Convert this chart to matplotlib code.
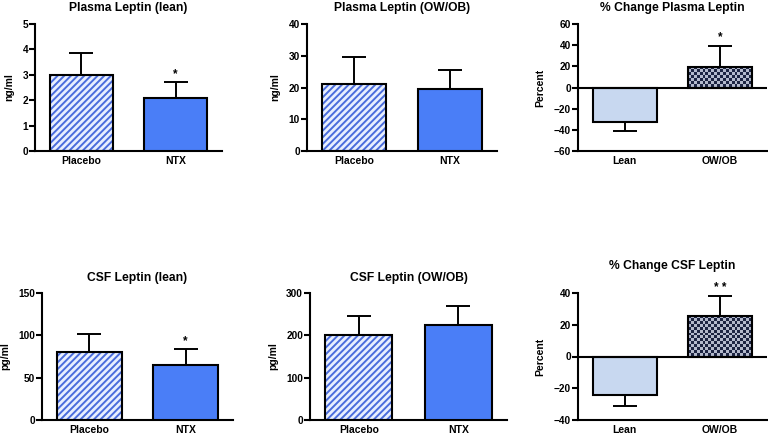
import numpy as np
import matplotlib
matplotlib.use("Agg")
import matplotlib.pyplot as plt

plt.rcParams['font.family'] = ['Liberation Sans', 'DejaVu Sans']
plt.rcParams['font.weight'] = 'bold'
plt.rcParams['hatch.linewidth'] = 1.4

# ---- data ----
titles = ["Plasma Leptin (lean)", "Plasma Leptin (OW/OB)", "% Change Plasma Leptin",
          "CSF Leptin (lean)", "CSF Leptin (OW/OB)", "% Change CSF Leptin"]
ylabels = ["ng/ml", "ng/ml", "Percent", "pg/ml", "pg/ml", "Percent"]
cats_treat = ["Placebo", "NTX"]
cats_group = ["Lean", "OW/OB"]

plasma_lean_mean = [3.0, 2.07]
plasma_lean_err = [0.85, 0.65]
plasma_ob_mean = [21.0, 19.6]
plasma_ob_err = [8.7, 6.0]
plasma_pct_mean = [-32.5, 19.5]
plasma_pct_err = [9.0, 20.0]
csf_lean_mean = [80.0, 65.0]
csf_lean_err = [21.5, 18.5]
csf_ob_mean = [200.0, 225.0]
csf_ob_err = [45.0, 45.0]
csf_pct_mean = [-24.0, 25.5]
csf_pct_err = [7.0, 12.5]

ylims = [(0, 5), (0, 40), (-60, 60), (0, 150), (0, 300), (-40, 40)]
yticks = [[0, 1, 2, 3, 4, 5], [0, 10, 20, 30, 40], [-60, -40, -20, 0, 20, 40, 60],
          [0, 50, 100, 150], [0, 100, 200, 300], [-40, -20, 0, 20, 40]]
stars = [["", "*"], ["", ""], ["", "*"], ["", "*"], ["", ""], ["", "* *"]]

panels = [
    (plasma_lean_mean, plasma_lean_err, cats_treat, "treat"),
    (plasma_ob_mean, plasma_ob_err, cats_treat, "treat"),
    (plasma_pct_mean, plasma_pct_err, cats_group, "group"),
    (csf_lean_mean, csf_lean_err, cats_treat, "treat"),
    (csf_ob_mean, csf_ob_err, cats_treat, "treat"),
    (csf_pct_mean, csf_pct_err, cats_group, "group"),
]

W, H = 768, 434
fig = plt.figure(figsize=(W / 100, H / 100), dpi=100)

# axes boxes in pixels: left, right, top, bottom
boxes = [(35, 222, 24, 151), (307, 497, 24, 151), (578, 767, 24, 151),
         (42, 233, 293, 420), (310, 507, 293, 420), (578, 767, 293, 420)]
title_pads = [9, 9, 9, 9, 9, 17]

NTX_BLUE = "#4a7ef7"
HATCH_BLUE = "#4a6cdc"
HATCH_BG = "#e8efff"
LEAN_BLUE = "#c8d8f0"
CHECK_DARK = "#1c2442"
CHECK_LIGHT = "#b3b9cc"

checker_bars = []
for i, ((mean, err, cats, kind), (l, r, t, b)) in enumerate(zip(panels, boxes)):
    ax = fig.add_axes([l / W, 1 - b / H, (r - l) / W, (b - t) / H])
    x = np.arange(len(cats))
    bw = 0.67
    yerr = [[e if m < 0 else 0 for m, e in zip(mean, err)],
            [e if m >= 0 else 0 for m, e in zip(mean, err)]]
    ax.errorbar(x, mean, yerr=yerr, fmt="none", ecolor="black", elinewidth=1.4,
                capsize=8.5, capthick=1.4, zorder=1)
    if kind == "treat":
        ax.bar(x[0], mean[0], width=bw, color=HATCH_BG, edgecolor=HATCH_BLUE,
               hatch="/////", linewidth=0, zorder=2)
        ax.bar(x[0], mean[0], width=bw, fill=False, edgecolor="black",
               linewidth=1.5, zorder=3)
        ax.bar(x[1], mean[1], width=bw, color=NTX_BLUE, edgecolor="black",
               linewidth=1.5, zorder=3)
    else:
        ax.bar(x[0], mean[0], width=bw, color=LEAN_BLUE, edgecolor="black",
               linewidth=1.5, zorder=3)
        cb = ax.bar(x[1], mean[1], width=bw, color=CHECK_LIGHT, edgecolor="none",
                    linewidth=0, zorder=2)
        ax.bar(x[1], mean[1], width=bw, fill=False, edgecolor="black",
               linewidth=1.5, zorder=4)
        checker_bars.append((ax, cb[0]))
        ax.axhline(0, color="black", linewidth=1.5, zorder=5)
    for xi, m, e, s in zip(x, mean, err, stars[i]):
        if s:
            ax.annotate(s, (xi, m + e), xytext=(0, 1.5), textcoords="offset points",
                        ha="center", va="bottom", fontsize=8.5, fontweight="bold")
    ax.set_xlim(-0.49, 1.49)
    ax.set_ylim(*ylims[i])
    ax.set_yticks(yticks[i])
    ax.set_xticks(x)
    ax.set_xticklabels(cats)
    ax.tick_params(axis="x", length=0, pad=3.5, labelsize=7.5)
    ax.tick_params(axis="y", length=4, width=1.5, pad=1, labelsize=7.3)
    for lab in ax.get_xticklabels() + ax.get_yticklabels():
        lab.set_fontweight("bold")
    for sp in ["top", "right"]:
        ax.spines[sp].set_visible(False)
    for sp in ["left", "bottom"]:
        ax.spines[sp].set_linewidth(1.5)
    ax.set_title(titles[i], fontsize=8.7, fontweight="bold", pad=title_pads[i])
    ax.set_ylabel(ylabels[i], fontsize=7.5, fontweight="bold", labelpad=6)

# checkerboard fill via clipped image
fig.canvas.draw()
cmap = matplotlib.colors.ListedColormap([CHECK_DARK, CHECK_LIGHT])
for ax, patch in checker_bars:
    bb = patch.get_window_extent()
    nx = max(2, int(round(bb.width / 2.9)))
    ny = max(2, int(round(bb.height / 2.9)))
    grid = (np.add.outer(np.arange(ny), np.arange(nx)) % 2).astype(float)
    x0, y0 = patch.get_x(), patch.get_y()
    w, h = patch.get_width(), patch.get_height()
    im = ax.imshow(grid, extent=(x0, x0 + w, y0, y0 + h), cmap=cmap, aspect="auto",
                   interpolation="nearest", zorder=3)
    im.set_clip_path(patch)
    ax.set_xlim(-0.49, 1.49)

fig.savefig("out.png", dpi=100)
